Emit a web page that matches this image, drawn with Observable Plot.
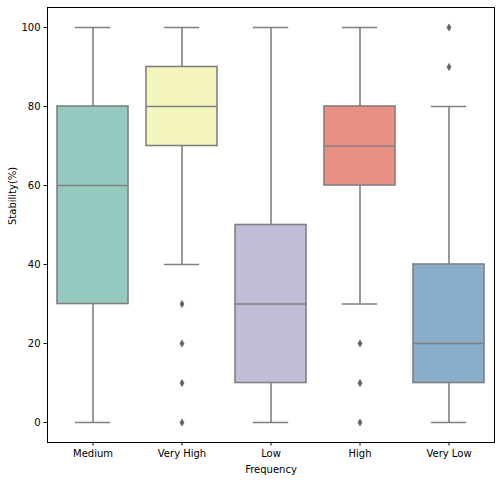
<!DOCTYPE html>
<html>
<head>
<meta charset="utf-8">
<script src="https://cdn.jsdelivr.net/npm/d3@7"></script>
<script src="https://cdn.jsdelivr.net/npm/@observablehq/plot@0.6"></script>
<style>
  body { margin: 0; background: #fff; }
  svg { font-family: "DejaVu Sans", sans-serif; }
</style>
</head>
<body>
<div id="chart"></div>
<script>
const categories = ["Medium", "Very High", "Low", "High", "Very Low"];
const whiskerLow = [0, 40, 0, 30, 0];
const q1 = [30, 70, 10, 60, 10];
const median = [60, 80, 30, 70, 20];
const q3 = [80, 90, 50, 80, 40];
const whiskerHigh = [100, 100, 100, 100, 80];
const outliers = [[], [30, 20, 10, 0], [], [20, 10, 0], [90, 100]];
const boxColors = ["#96cac0", "#f5f6bd", "#c0bdd8", "#ea9083", "#89aecb"];
const yTicks = [0, 20, 40, 60, 80, 100];

const stats = categories.map((c, i) => ({
  cat: c, lo: whiskerLow[i], q1: q1[i], med: median[i], q3: q3[i], hi: whiskerHigh[i]
}));
const flierData = categories.flatMap((c, i) => outliers[i].map(v => ({cat: c, v})));

const lineGray = "#808080";
const thinDiamond = {
  draw(ctx, size) {
    const r = Math.sqrt(size / Math.PI);
    const w = r * 0.6, h = r * 1.05;
    ctx.moveTo(0, -h);
    ctx.lineTo(w, 0);
    ctx.lineTo(0, h);
    ctx.lineTo(-w, 0);
    ctx.closePath();
  }
};

const chart = Plot.plot({
  width: 500,
  height: 480,
  marginLeft: 47,
  marginRight: 6,
  marginTop: 7,
  marginBottom: 38,
  style: {fontFamily: "DejaVu Sans, sans-serif", fontSize: "10px", color: "#000", background: "#fff"},
  x: {domain: categories, paddingInner: 0.2, paddingOuter: 0.1, label: null, tickSize: 3.5, tickPadding: 3.5},
  y: {domain: [-5.06, 105.06], ticks: yTicks, tickFormat: d => String(d), label: null, tickSize: 3.5, tickPadding: 3.5},
  color: {domain: categories, range: boxColors},
  marks: [
    Plot.ruleX(stats, {x: "cat", y1: "lo", y2: "q1", stroke: lineGray, strokeWidth: 1.6}),
    Plot.ruleX(stats, {x: "cat", y1: "q3", y2: "hi", stroke: lineGray, strokeWidth: 1.6}),
    Plot.tickY(stats, {x: "cat", y: "lo", stroke: lineGray, strokeWidth: 1.6, inset: 17.8}),
    Plot.tickY(stats, {x: "cat", y: "hi", stroke: lineGray, strokeWidth: 1.6, inset: 17.8}),
    Plot.barY(stats, {x: "cat", y1: "q1", y2: "q3", fill: "cat", stroke: lineGray, strokeWidth: 1.6}),
    Plot.tickY(stats, {x: "cat", y: "med", stroke: lineGray, strokeWidth: 1.6}),
    Plot.dot(flierData, {x: "cat", y: "v", r: 3.4, symbol: thinDiamond, fill: "#5f5f5f", stroke: "#5f5f5f", strokeWidth: 0.6}),
    Plot.frame({stroke: "#000", strokeWidth: 1}),
    Plot.axisX({tickSize: 3.5, tickPadding: 3.5, label: null}),
    Plot.axisY({ticks: yTicks, tickFormat: d => String(d), tickSize: 3.5, tickPadding: 3.5, label: null}),
    Plot.text(["Frequency"], {frameAnchor: "bottom", dy: 30, fontSize: 10, fill: "#000"}),
    Plot.text(["Stability(%)"], {frameAnchor: "left", dx: -35, rotate: -90, fontSize: 10, fill: "#000"})
  ]
});
document.getElementById("chart").appendChild(chart);
</script>
</body>
</html>
